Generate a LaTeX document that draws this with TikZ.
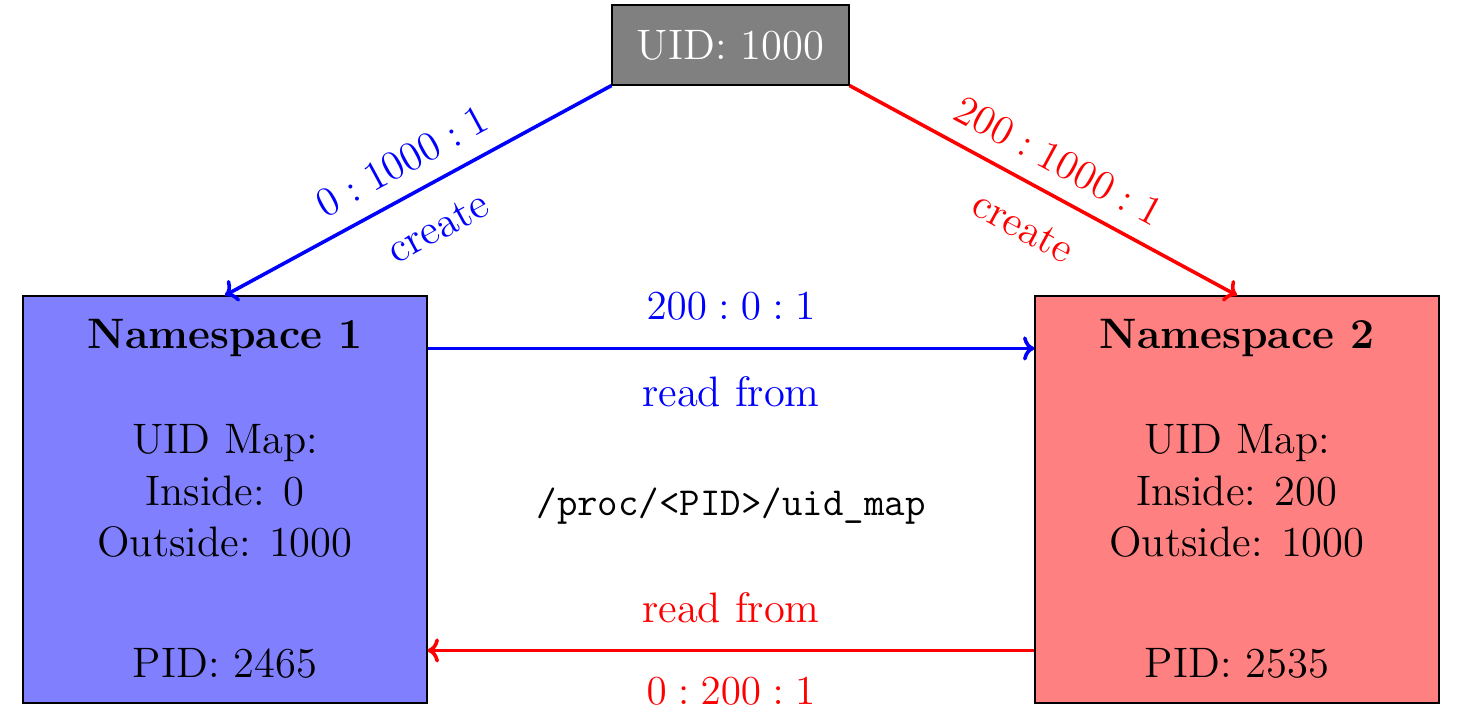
\documentclass[tikz,border=0pt]{standalone}
\usetikzlibrary{arrows.meta}
\newcommand{\mysize}{\fontsize{14.9pt}{18pt}\selectfont}
\begin{document}
\begin{tikzpicture}[x=0.3497pt,y=-0.3497pt,font=\mysize,
  nsbox/.style={draw=black,minimum width=404*0.3497pt,minimum height=407*0.3497pt,inner sep=0pt},
  conn/.style={line width=1.25pt,-{To[length=4pt,width=8.5pt]}}]
\useasboundingbox (0,0) rectangle (1459,717);
\node[nsbox,fill=blue!50] (ns1) at (225,499.5) {};
\node[nsbox,fill=red!50] (ns2) at (1237,499.5) {};
\node[draw=black,fill=gray,text=white,minimum width=237*0.3497pt,minimum height=80*0.3497pt] (uid) at (730.5,45) {UID: 1000};
\node[font=\mysize\bfseries] (t1) at (225,338) {Namespace 1};
\node[align=center] (m1) at (225,491) {UID Map:\\Inside: 0\\Outside: 1000};
\node (p1) at (225,663) {PID: 2465};
\node[font=\mysize\bfseries] (t2) at (1237,338) {Namespace 2};
\node[align=center] (m2) at (1237,491) {UID Map:\\Inside: 200\\Outside: 1000};
\node (p2) at (1237,663) {PID: 2535};
\node[font=\fontsize{13.9pt}{17pt}\selectfont\ttfamily] (path) at (731,506) {/proc/<PID>/uid\_map};
\draw[conn,blue] (uid.south west) -- node[sloped,above=3pt] {$0:1000:1$} node[sloped,below=6pt] {create} (ns1.north);
\draw[conn,red] (uid.south east) -- node[sloped,above=3pt] {$200:1000:1$} node[sloped,below=6pt] {create} (ns2.north);
\draw[conn,blue] ([yshift=-53*0.3497pt]ns1.north east) -- node[above=6pt] {$200:0:1$} node[below=6pt] {read from} ([yshift=-53*0.3497pt]ns2.north west);
\draw[conn,red] ([yshift=-355*0.3497pt]ns2.north west) -- node[above=5.5pt] {read from} node[below=5.5pt] {$0:200:1$} ([yshift=-355*0.3497pt]ns1.north east);
\end{tikzpicture}
\end{document}
